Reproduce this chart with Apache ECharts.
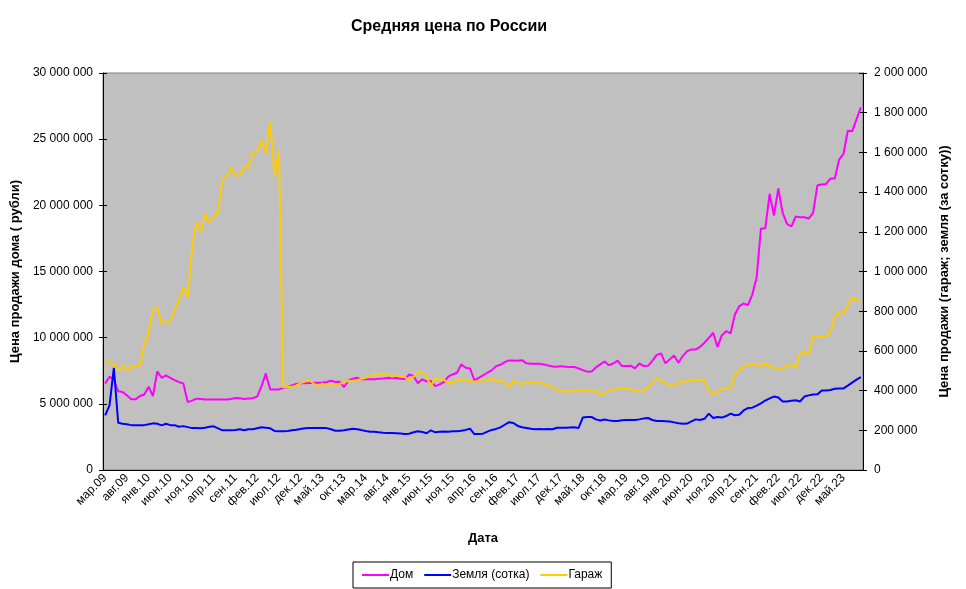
<!DOCTYPE html>
<html>
<head>
<meta charset="utf-8">
<script src="https://cdn.jsdelivr.net/npm/echarts@6/dist/echarts.min.js"></script>
<style>html,body{margin:0;padding:0;background:#fff}#c{width:966px;height:589px}</style>
</head>
<body>
<div id="c"></div>
<script>
// Month labels: from мар.09 to сен.23 (175 months)
const monthNames = ['янв','фев','мар','апр','май','июн','июл','авг','сен','окт','ноя','дек'];
const startYear = 2009, startMonth = 2, monthCount = 175;
const categories = [];
for (let k = 0; k < monthCount; k++) {
  const m = (startMonth + k) % 12;
  const y = (startYear + Math.floor((startMonth + k) / 12)) % 100;
  categories.push(monthNames[m] + '.' + String(y).padStart(2, '0'));
}

// Дом, рубли (left axis)
const dom = [
6540000,7050000,6850000,5950000,5890000,5640000,5340000,5340000,5590000,5710000,
6290000,5590000,7450000,6970000,7150000,6970000,6790000,6640000,6540000,5130000,
5240000,5390000,5360000,5330000,5330000,5320000,5320000,5330000,5320000,5360000,
5440000,5430000,5360000,5400000,5430000,5550000,6340000,7300000,6090000,6090000,
6090000,6190000,6270000,6390000,6500000,6550000,6550000,6570000,6600000,6600000,
6620000,6650000,6750000,6650000,6670000,6270000,6770000,6900000,6970000,6850000,
6850000,6850000,6850000,6900000,6920000,6950000,6970000,6950000,6900000,6870000,
7220000,7100000,6550000,6850000,6700000,6720000,6340000,6470000,6650000,7050000,
7220000,7350000,7980000,7730000,7680000,6800000,6970000,7150000,7350000,7530000,
7850000,7950000,8150000,8280000,8280000,8260000,8300000,8060000,8030000,8030000,
8030000,7980000,7900000,7830000,7810000,7850000,7810000,7780000,7780000,7680000,
7550000,7430000,7450000,7750000,7980000,8200000,7920000,8050000,8260000,7850000,
7850000,7880000,7680000,8060000,7850000,7870000,8250000,8700000,8810000,8060000,
8360000,8660000,8110000,8610000,8980000,9110000,9110000,9310000,9620000,9990000,
10370000,9290000,10190000,10490000,10320000,11750000,12380000,12580000,12460000,13260000,
14520000,18250000,18250000,20870000,19230000,21270000,19430000,18600000,18400000,19150000,
19100000,19100000,19000000,19430000,21510000,21570000,21620000,22020000,22020000,23460000,
23880000,25640000,25590000,26500000,27400000
];

// Земля (сотка), рубли (right axis)
const zemlya = [
275000,326000,515000,238000,233000,230000,226000,226000,226000,226000,
230000,235000,233000,225000,233000,226000,226000,218000,221000,216000,
211000,211000,210000,213000,218000,220000,210000,200000,200000,200000,
202000,205000,200000,205000,205000,210000,215000,213000,210000,197000,
195000,195000,196000,200000,203000,207000,210000,211000,211000,211000,
211000,211000,205000,198000,198000,200000,204000,208000,205000,201000,
196000,193000,193000,190000,188000,187000,186000,185000,184000,181000,
183000,190000,195000,192000,185000,200000,190000,193000,194000,193000,
195000,195000,198000,202000,208000,181000,181000,183000,193000,202000,
207000,215000,228000,241000,237000,222000,215000,212000,208000,205000,
207000,205000,207000,205000,213000,213000,213000,214000,215000,212000,
265000,267000,267000,255000,249000,254000,250000,247000,247000,251000,
252000,252000,252000,255000,260000,262000,252000,247000,247000,246000,
244000,240000,236000,233000,234000,245000,255000,252000,258000,284000,
262000,267000,264000,272000,284000,276000,278000,300000,312000,314000,
324000,336000,350000,361000,370000,365000,345000,345000,349000,351000,
345000,370000,376000,380000,381000,400000,400000,403000,409000,411000,
411000,425000,440000,455000,468000
];

// Гараж, рубли (right axis)
const garazh = [
549000,540000,533000,498000,527000,498000,520000,519000,528000,633000,
691000,805000,820000,737000,748000,748000,809000,859000,916000,873000,
1111000,1250000,1198000,1290000,1248000,1278000,1298000,1463000,1476000,1525000,
1483000,1483000,1530000,1522000,1600000,1605000,1659000,1597000,1757000,1480000,
1611000,415000,420000,418000,426000,438000,445000,453000,436000,418000,
435000,426000,428000,432000,435000,440000,450000,448000,453000,460000,
465000,473000,482000,485000,485000,485000,470000,477000,473000,468000,
453000,470000,487000,495000,470000,423000,465000,456000,456000,436000,
443000,450000,456000,453000,448000,443000,450000,458000,450000,460000,
446000,452000,440000,415000,450000,435000,436000,440000,445000,436000,
443000,433000,431000,415000,405000,400000,395000,396000,398000,400000,
403000,398000,405000,400000,378000,390000,400000,406000,410000,411000,
411000,406000,400000,397000,400000,415000,440000,463000,452000,438000,
428000,430000,438000,445000,447000,452000,452000,456000,453000,396000,
384000,395000,408000,411000,411000,482000,500000,520000,533000,535000,
530000,520000,540000,520000,515000,514000,513000,525000,530000,515000,
588000,598000,580000,672000,672000,670000,671000,697000,770000,792000,
789000,830000,870000,856000,846000
];

const leftTicks = {min: 0, max: 30000000, interval: 5000000};
const rightTicks = {min: 0, max: 2000000, interval: 200000};

const fmt = v => String(v).replace(/\B(?=(\d{3})+(?!\d))/g, ' ');
const FONT = 'Liberation Sans, Arial, sans-serif';

const chart = echarts.init(document.getElementById('c'), null, {renderer: 'canvas'});
chart.setOption({
  animation: false,
  backgroundColor: '#fff',
  title: {
    text: 'Средняя цена по России',
    left: 346,
    top: 14,
    textStyle: {fontFamily: FONT, fontSize: 16, fontWeight: 'bold', color: '#000'}
  },
  grid: {
    left: 103, right: 103, top: 73, height: 397,
    show: true, backgroundColor: '#C0C0C0', borderColor: '#808080', borderWidth: 1
  },
  legend: {
    left: 353, top: 562,
    icon: 'rect', itemWidth: 27, itemHeight: 2, itemGap: 11,
    borderColor: '#000', borderWidth: 1, padding: [7, 9],
    textStyle: {fontFamily: FONT, fontSize: 12, color: '#000', padding: [0, 0, 0, -4]},
    data: ['Дом', 'Земля (сотка)', 'Гараж']
  },
  xAxis: [{
    type: 'category', data: categories, boundaryGap: true,
    name: 'Дата', nameLocation: 'middle', nameGap: 62,
    nameTextStyle: {fontFamily: FONT, fontSize: 13, fontWeight: 'bold', color: '#000'},
    axisLine: {lineStyle: {color: '#000', width: 1}},
    axisTick: {interval: 0, length: 3, lineStyle: {color: '#000'}},
    axisLabel: {interval: 4, rotate: 45, margin: 6, fontFamily: FONT, fontSize: 12, color: '#000'},
    splitLine: {show: false}
  }, {
    type: 'category', data: categories, boundaryGap: true, position: 'bottom',
    axisLine: {show: false},
    axisTick: {interval: 0, inside: true, length: 3, lineStyle: {color: '#000'}},
    axisLabel: {show: false}, splitLine: {show: false}
  }],
  yAxis: [{
    type: 'value', position: 'left', ...leftTicks,
    name: 'Цена продажи дома ( рубли)', nameLocation: 'middle', nameGap: 74, nameRotate: 90,
    nameTextStyle: {fontFamily: FONT, fontSize: 13, fontWeight: 'bold', color: '#000'},
    axisLine: {show: true, lineStyle: {color: '#000'}},
    axisTick: {show: true, length: 4, lineStyle: {color: '#000'}},
    axisLabel: {formatter: fmt, margin: 10, fontFamily: FONT, fontSize: 12, color: '#000'},
    splitLine: {show: false}
  }, {
    type: 'value', position: 'right', ...rightTicks,
    name: 'Цена продажи (гараж; земля (за сотку))', nameLocation: 'middle', nameGap: 73, nameRotate: 90,
    nameTextStyle: {fontFamily: FONT, fontSize: 13, fontWeight: 'bold', color: '#000'},
    axisLine: {show: true, lineStyle: {color: '#000'}},
    axisTick: {show: true, length: 4, lineStyle: {color: '#000'}},
    axisLabel: {formatter: fmt, margin: 11, fontFamily: FONT, fontSize: 12, color: '#000'},
    splitLine: {show: false}
  }, {
    type: 'value', position: 'left', ...leftTicks,
    axisLine: {show: false}, axisLabel: {show: false}, splitLine: {show: false},
    axisTick: {show: true, inside: true, length: 4, lineStyle: {color: '#000'}}
  }, {
    type: 'value', position: 'right', ...rightTicks,
    axisLine: {show: false}, axisLabel: {show: false}, splitLine: {show: false},
    axisTick: {show: true, inside: true, length: 4, lineStyle: {color: '#000'}}
  }],
  series: [{
    name: 'Дом', type: 'line', xAxisIndex: 0, yAxisIndex: 0, data: dom,
    showSymbol: false, symbol: 'none', color: '#FF00FF', lineStyle: {width: 2, color: '#FF00FF'}, z: 3
  }, {
    name: 'Земля (сотка)', type: 'line', xAxisIndex: 0, yAxisIndex: 1, data: zemlya,
    showSymbol: false, symbol: 'none', color: '#0000FF', lineStyle: {width: 2, color: '#0000FF'}, z: 4
  }, {
    name: 'Гараж', type: 'line', xAxisIndex: 0, yAxisIndex: 1, data: garazh,
    showSymbol: false, symbol: 'none', color: '#FFCC00', lineStyle: {width: 2, color: '#FFCC00'}, z: 5
  }]
});
</script>
</body>
</html>
